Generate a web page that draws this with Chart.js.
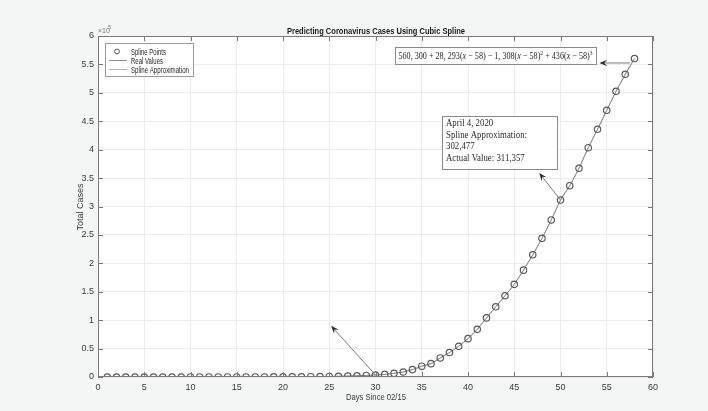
<!DOCTYPE html>
<html>
<head>
<meta charset="utf-8">
<script src="https://cdn.jsdelivr.net/npm/chart.js@4.4.1/dist/chart.umd.min.js"></script>
<style>
  html, body { margin: 0; padding: 0; background: #f4f5f5; }
  #splineChart { display: block; }
</style>
</head>
<body>
<canvas id="splineChart" width="708" height="411"></canvas>
<script>
// DATA
const days = [1, 2, 3, 4, 5, 6, 7, 8, 9, 10, 11, 12, 13, 14, 15, 16, 17, 18, 19, 20,
    21, 22, 23, 24, 25, 26, 27, 28, 29, 30, 31, 32, 33, 34, 35, 36, 37, 38, 39, 40,
    41, 42, 43, 44, 45, 46, 47, 48, 49, 50, 51, 52, 53, 54, 55, 56, 57, 58];
const totalCases = [15, 15, 15, 15, 15, 15, 35, 35, 35, 53, 53, 59, 60, 62, 70, 76, 101, 122, 153, 221,
    278, 417, 537, 605, 959, 1281, 1663, 2179, 2726, 3499, 4600, 6400, 8800, 13000, 19000, 23500, 33500, 43000, 54000, 67500,
    84000, 104000, 123500, 143000, 163000, 188000, 215000, 244000, 276300, 311357, 336600, 367200, 403500, 435800, 469300, 502700, 532600, 560300];

const xTicks = [0, 5, 10, 15, 20, 25, 30, 35, 40, 45, 50, 55, 60];
const yTicks = [0, 0.5, 1, 1.5, 2, 2.5, 3, 3.5, 4, 4.5, 5, 5.5, 6];
const yExponent = 5;

const seriesNames = ["Spline Points", "Real Values", "Spline Approximation"];
const titleText = "Predicting Coronavirus Cases Using Cubic Spline";
const xTitle = "Days Since 02/15";
const yTitle = "Total Cases";
const noteLines = ["April 4, 2020", "Spline Approximation:", "302,477", "Actual Value: 311,357"];

// arrows: [tailDay, tailCases, tipDay, tipCases]
const arrows = [
    [57.5, 552500, 54.2, 552500],
    [50, 311357, 47.7, 359000],
    [30, 3499, 25.2, 90000]
];

// COLOURS
const axisColor = "#7a7a7a";
const gridColor = "#ececec";
const textColor = "#3c3c3c";
const sansFont = "'Liberation Sans Narrow', 'Liberation Sans', Arial, sans-serif";
const serifFont = "'Liberation Serif', 'DejaVu Serif', serif";

const canvas = document.getElementById("splineChart");
const points = days.map((d, i) => ({ x: d, y: totalCases[i] }));

// DRAW TEXT SQUEEZED INTO A WIDTH
function fitText(ctx, text, x, y, font, maxW, align) {
    ctx.save();
    ctx.font = font;
    const w = ctx.measureText(text).width;
    const s = Math.min(1, maxW / w);
    ctx.translate(x, y);
    ctx.scale(s, 1);
    ctx.textAlign = align || "left";
    ctx.fillText(text, 0, 0);
    ctx.restore();
}

function drawArrow(ctx, x1, y1, x2, y2) {
    const ang = Math.atan2(y2 - y1, x2 - x1);
    const len = 8, half = 3.2;
    ctx.strokeStyle = "#7c7c7c";
    ctx.lineWidth = 1;
    ctx.beginPath();
    ctx.moveTo(x1, y1);
    ctx.lineTo(x2 - Math.cos(ang) * len * 0.6, y2 - Math.sin(ang) * len * 0.6);
    ctx.stroke();
    ctx.fillStyle = "#2d2d2d";
    ctx.beginPath();
    ctx.moveTo(x2, y2);
    ctx.lineTo(x2 - Math.cos(ang) * len - Math.sin(ang) * half, y2 - Math.sin(ang) * len + Math.cos(ang) * half);
    ctx.lineTo(x2 - Math.cos(ang) * len * 0.6, y2 - Math.sin(ang) * len * 0.6);
    ctx.lineTo(x2 - Math.cos(ang) * len + Math.sin(ang) * half, y2 - Math.sin(ang) * len - Math.cos(ang) * half);
    ctx.closePath();
    ctx.fill();
}

// EQUATION WITH ITALIC x AND SUPERSCRIPTS
function drawEquation(ctx, x, y, maxW) {
    const n = "9.5px " + serifFont, it = "italic 9.5px " + serifFont, sup = "6.5px " + serifFont;
    const parts = [
        ["560, 300 + 28, 293(", n, 0], ["x", it, 0], [" \u2212 58) \u2212 1, 308(", n, 0], ["x", it, 0],
        [" \u2212 58)", n, 0], ["2", sup, -4], [" + 436(", n, 0], ["x", it, 0], [" \u2212 58)", n, 0], ["3", sup, -4]
    ];
    let total = 0;
    parts.forEach(p => { ctx.font = p[1]; total += ctx.measureText(p[0]).width; });
    const s = Math.min(1, maxW / total);
    ctx.save();
    ctx.translate(x, y);
    ctx.scale(s, 1);
    ctx.textAlign = "left";
    let cx = 0;
    parts.forEach(p => {
        ctx.font = p[1];
        ctx.fillText(p[0], cx, p[2]);
        cx += ctx.measureText(p[0]).width;
    });
    ctx.restore();
}

// BACKGROUND + FRAME + TEXT PLUGIN
const figurePlugin = {
    id: "figurePlugin",
    beforeDraw(chart) {
        const { ctx, chartArea: a } = chart;
        ctx.save();
        ctx.fillStyle = "#f4f5f5";
        ctx.fillRect(0, 0, chart.width, chart.height);
        ctx.fillStyle = "#ffffff";
        ctx.fillRect(a.left, a.top, a.right - a.left, a.bottom - a.top);
        ctx.restore();
    },
    afterDraw(chart) {
        const { ctx, chartArea: a, scales } = chart;
        const xs = scales.x, ys = scales.y;
        ctx.save();

        // axes box
        ctx.strokeStyle = axisColor;
        ctx.lineWidth = 1;
        ctx.strokeRect(a.left + 0.5, a.top + 0.5, a.right - a.left - 1, a.bottom - a.top - 1);

        // inward ticks
        ctx.beginPath();
        xTicks.forEach(t => {
            const px = Math.round(xs.getPixelForValue(t)) + 0.5;
            ctx.moveTo(px, a.bottom); ctx.lineTo(px, a.bottom - 5);
            ctx.moveTo(px, a.top); ctx.lineTo(px, a.top + 5);
        });
        yTicks.forEach(t => {
            const py = Math.round(ys.getPixelForValue(t * 1e5)) + 0.5;
            ctx.moveTo(a.left, py); ctx.lineTo(a.left + 5, py);
            ctx.moveTo(a.right, py); ctx.lineTo(a.right - 5, py);
        });
        ctx.stroke();

        // arrows
        arrows.forEach(r => drawArrow(ctx,
            xs.getPixelForValue(r[0]), ys.getPixelForValue(r[1]),
            xs.getPixelForValue(r[2]), ys.getPixelForValue(r[3])));

        // title and axis titles
        ctx.fillStyle = "#1a1a1a";
        ctx.textBaseline = "alphabetic";
        fitText(ctx, titleText, 376, 33.5, "bold 9.5px " + sansFont, 178, "center");
        ctx.fillStyle = textColor;
        fitText(ctx, xTitle, 376, 400, "9.5px " + sansFont, 60, "center");
        ctx.save();
        ctx.translate(83, 207);
        ctx.rotate(-Math.PI / 2);
        fitText(ctx, yTitle, 0, 0, "9.5px " + sansFont, 47, "center");
        ctx.restore();

        // exponent label
        ctx.fillStyle = "#777";
        ctx.font = "7px " + sansFont;
        ctx.textAlign = "left";
        ctx.fillText("\u00d710", a.left, a.top - 3);
        ctx.font = "5.5px " + sansFont;
        ctx.fillText(String(yExponent), a.left + 10, a.top - 7);

        // legend
        ctx.fillStyle = "#ffffff";
        ctx.fillRect(105, 43, 88, 33);
        ctx.strokeStyle = "#9a9a9a";
        ctx.strokeRect(105.5, 43.5, 88, 33);
        ctx.strokeStyle = "#555555";
        ctx.beginPath();
        ctx.arc(117, 51.5, 2.4, 0, Math.PI * 2);
        ctx.stroke();
        ctx.strokeStyle = "#8c8c8c";
        ctx.beginPath();
        ctx.moveTo(109, 60.5); ctx.lineTo(127, 60.5);
        ctx.stroke();
        ctx.strokeStyle = "#b4b4b4";
        ctx.beginPath();
        ctx.moveTo(109, 69.5); ctx.lineTo(127, 69.5);
        ctx.stroke();
        ctx.fillStyle = "#1e1e1e";
        const legendYs = [54.5, 63.5, 72.5];
        const legendWidths = [35, 32, 58];
        seriesNames.forEach((name, i) => {
            fitText(ctx, name, 131, legendYs[i], "8.5px " + sansFont, legendWidths[i], "left");
        });

        // equation box
        ctx.fillStyle = "#ffffff";
        ctx.fillRect(395, 47, 201, 17);
        ctx.strokeStyle = "#8a8a8a";
        ctx.strokeRect(395.5, 47.5, 201, 17);
        ctx.fillStyle = "#2a2a2a";
        drawEquation(ctx, 398.5, 59, 194);

        // annotation box
        ctx.fillStyle = "#ffffff";
        ctx.fillRect(442, 116, 115, 53);
        ctx.strokeStyle = "#8a8a8a";
        ctx.strokeRect(442.5, 116.5, 115, 53);
        ctx.fillStyle = "#2a2a2a";
        ctx.font = "10.5px " + serifFont;
        const sq = Math.min(1, 81 / ctx.measureText(noteLines[1]).width);
        const noteYs = [126, 137.5, 149, 160.5];
        noteLines.forEach((line, i) => {
            ctx.save();
            ctx.translate(446, noteYs[i]);
            ctx.scale(sq, 1);
            ctx.fillText(line, 0, 0);
            ctx.restore();
        });

        ctx.restore();
    }
};

// CHART
new Chart(canvas, {
    type: "line",
    data: {
        datasets: [
            {
                label: seriesNames[0],
                data: points,
                showLine: false,
                pointRadius: 3.2,
                pointBorderWidth: 1.2,
                pointBorderColor: "#5a5a5a",
                pointBackgroundColor: "rgba(255,255,255,0)"
            },
            {
                label: seriesNames[1],
                data: points,
                borderColor: "#8c8c8c",
                borderWidth: 1,
                pointRadius: 0,
                tension: 0
            },
            {
                label: seriesNames[2],
                data: points,
                borderColor: "#b4b4b4",
                borderWidth: 1,
                pointRadius: 0,
                cubicInterpolationMode: "monotone"
            }
        ]
    },
    options: {
        responsive: false,
        animation: false,
        layout: { padding: { top: 36, right: 55, left: 0, bottom: 0 } },
        plugins: { legend: { display: false }, tooltip: { enabled: false } },
        scales: {
            x: {
                type: "linear",
                min: 0,
                max: 60,
                afterFit: s => { s.height = 34; },
                afterBuildTicks: s => { s.ticks = xTicks.map(v => ({ value: v })); },
                grid: { color: gridColor, drawTicks: false },
                border: { display: false },
                ticks: { padding: 5, color: textColor, font: { size: 9, family: sansFont }, maxRotation: 0 }
            },
            y: {
                type: "linear",
                min: 0,
                max: 600000,
                afterFit: s => { s.width = 98; },
                afterBuildTicks: s => { s.ticks = yTicks.map(v => ({ value: v * 1e5 })); },
                grid: { color: gridColor, drawTicks: false },
                border: { display: false },
                ticks: {
                    padding: 4,
                    color: textColor,
                    font: { size: 9, family: sansFont },
                    callback: v => String(v / Math.pow(10, yExponent))
                }
            }
        }
    },
    plugins: [figurePlugin]
});
</script>
</body>
</html>
